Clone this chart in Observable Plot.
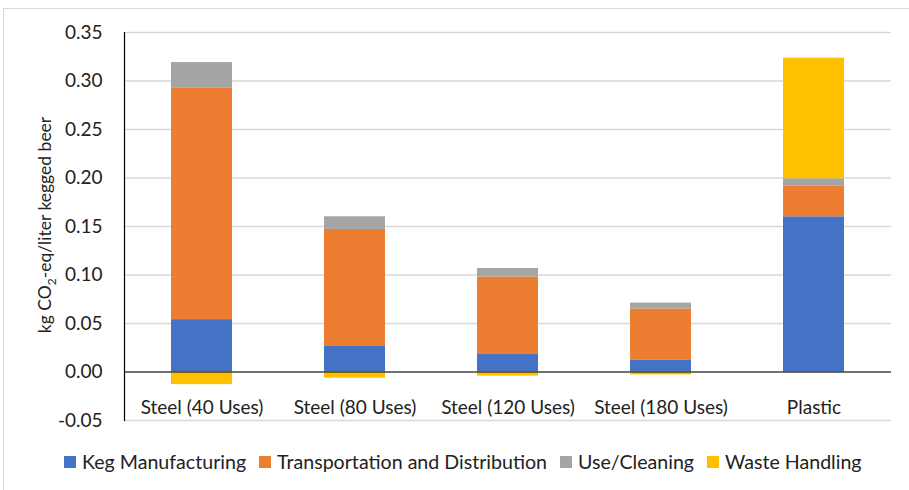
<!DOCTYPE html>
<html>
<head>
<meta charset="utf-8">
<script src="https://cdn.jsdelivr.net/npm/d3@7"></script>
<script src="https://cdn.jsdelivr.net/npm/@observablehq/plot@0.6"></script>
<style>
  body { margin: 0; background: #fff; font-family: Lato, sans-serif; }
  #wrap { position: relative; width: 909px; height: 490px; overflow: hidden; background: #fff; }
  #border { position: absolute; left: 3px; top: 8px; width: 940px; height: 530px; border: 1.5px solid #d9d9d9; pointer-events: none; }
  #chart { position: absolute; left: 0; top: 0; }
  #legend { position: absolute; left: 64px; top: 450px; display: flex; align-items: center; font-size: 19.6px; color: #222; white-space: nowrap; }
  .item { display: flex; align-items: center; margin-right: 13px; }
  .sw { width: 12px; height: 12px; margin-right: 6px; }
</style>
</head>
<body>
<div id="wrap">
  <div id="chart"></div>
  <div id="legend"></div>
  <div id="border"></div>
</div>
<script>
const categories = ["Steel (40 Uses)", "Steel (80 Uses)", "Steel (120 Uses)", "Steel (180 Uses)", "Plastic"];
const seriesNames = ["Keg Manufacturing", "Transportation and Distribution", "Use/Cleaning", "Waste Handling"];
const kegManufacturing = [0.054, 0.027, 0.018, 0.012, 0.160];
const transportation = [0.239, 0.120, 0.080, 0.053, 0.0315];
const useCleaning = [0.026, 0.013, 0.0087, 0.006, 0.0077];
const wasteHandling = [-0.013, -0.0064, -0.0043, -0.003, 0.1243];
const yTicks = [-0.05, 0, 0.05, 0.10, 0.15, 0.20, 0.25, 0.30, 0.35];
const colors = ["#4472C4", "#ED7D31", "#A5A5A5", "#FFC000"];
const yLabelParts = ["kg CO", "2", "-eq/liter kegged beer"];

const seriesValues = [kegManufacturing, transportation, useCleaning, wasteHandling];
const rows = [];
seriesNames.forEach((s, i) => {
  categories.forEach((c, j) => rows.push({category: c, series: s, value: seriesValues[i][j]}));
});

const plot = Plot.plot({
  width: 909,
  height: 440,
  marginLeft: 124,
  marginRight: 18,
  marginTop: 32,
  marginBottom: 20,
  style: {fontFamily: "Lato, sans-serif", fontSize: "19px", color: "#222", background: "transparent"},
  x: {domain: categories, paddingInner: 0.6, paddingOuter: 0.3, label: null},
  y: {domain: [-0.05, 0.35], label: null},
  color: {domain: seriesNames, range: colors},
  marks: [
    Plot.gridY(yTicks, {stroke: "#d9d9d9", strokeOpacity: 1, strokeWidth: 1.3}),
    Plot.barY(rows, {x: "category", y: "value", fill: "series", z: "series", order: seriesNames}),
    Plot.ruleY([0], {stroke: "#000", strokeWidth: 1.2}),
    Plot.frame({anchor: "left", stroke: "#000", strokeWidth: 1.2}),
    Plot.axisY({ticks: yTicks, tickSize: 0, tickPadding: 22, tickFormat: d => d.toFixed(2), fontSize: 19, label: null}),
    Plot.axisX({anchor: "bottom", tickSize: 0, tickPadding: 3, dy: -23, fontSize: 19, label: null})
  ]
});
document.getElementById("chart").appendChild(plot);

// y-axis title with subscript
const svg = d3.select(plot);
const t = svg.append("text")
  .attr("transform", "translate(51,225) rotate(-90)")
  .attr("text-anchor", "middle")
  .attr("font-size", 17.5)
  .attr("font-family", "Lato, sans-serif")
  .attr("fill", "#222");
t.append("tspan").text(yLabelParts[0]);
t.append("tspan").attr("font-size", 12).attr("dy", 5).text(yLabelParts[1]);
t.append("tspan").attr("dy", -5).text(yLabelParts[2]);

// legend
const legend = d3.select("#legend");
seriesNames.forEach((s, i) => {
  const it = legend.append("div").attr("class", "item");
  it.append("div").attr("class", "sw").style("background", colors[i]);
  it.append("span").text(s);
});
</script>
</body>
</html>
